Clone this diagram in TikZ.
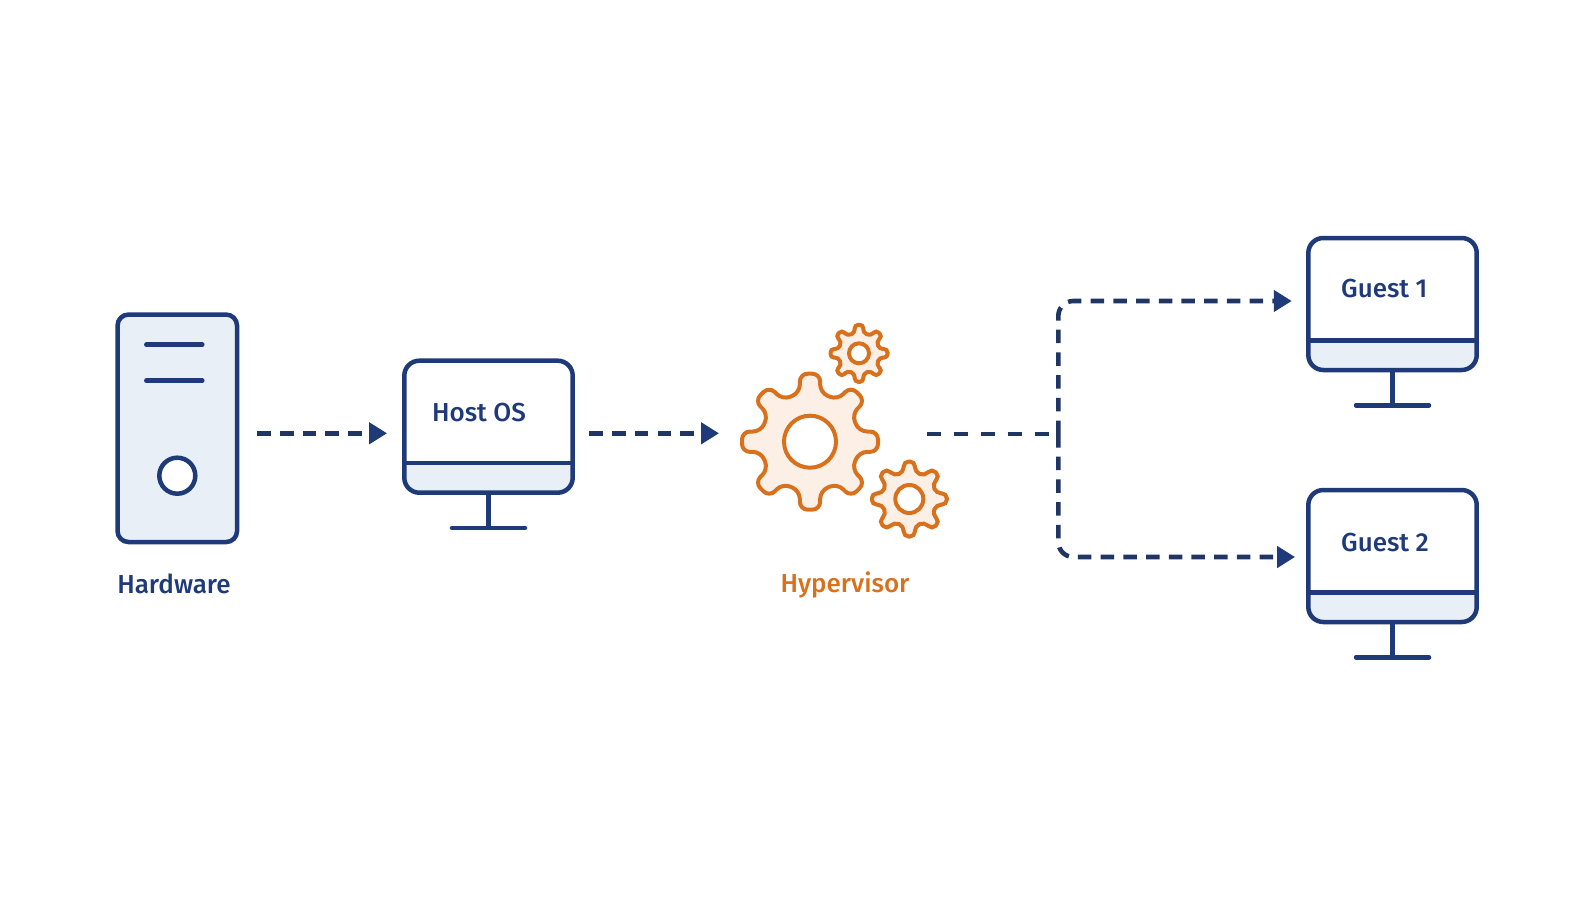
\documentclass[tikz,border=0pt]{standalone}
\usepackage{fontspec}
\setmainfont{Fira Sans Medium}
\usetikzlibrary{arrows.meta,positioning}
\definecolor{navy}{HTML}{1E3A78}
\definecolor{dashnavy}{HTML}{1F3564}
\definecolor{panel}{HTML}{E9EFF6}
\definecolor{rust}{HTML}{D9711C}
\definecolor{cogfill}{HTML}{FBEFE6}
\tikzset{
	pics/monitor/.style={code={
		\begin{scope}
			\clip (-84.2,36.3) rectangle (84.2,66);
			\fill[panel, rounded corners=15pt] (-84.2,-66) rectangle (84.2,66);
		\end{scope}
		\node[outline, minimum width=168.4pt, minimum height=132pt, rounded corners=15pt] (screen) at (0,0) { };
		\draw[thickline] (-84.2,36.3) -- (84.2,36.3);
		\draw[thickline] (screen.south) -- (0,101.3);
		\draw[thickline, line cap=round] (-36.5,101.3) -- (36.5,101.3);
	}},
	pics/gear/.style n args={3}{code={
		\draw[cog, rounded corners=#3] ([rotate=-22.5]{#1*.723},0)
			\foreach \a in {0,45,...,315} {
				-- ([rotate=\a]{#1*.72},{#1*.15}) -- ([rotate=\a]{#1},{#1*.15})
				-- ([rotate=\a]{#1},{-#1*.15}) -- ([rotate=\a]{#1*.72},{-#1*.15})
			} -- ([rotate=-22.5]{#1*.723},0);
		\node[hub, minimum size=#2*2pt] (hole) at (0,0) { };
	}}
}
\begin{document}
\begin{tikzpicture}[x=1pt, y=-1pt]
	\tikzstyle{outline}=[rectangle, draw=navy, line width=4.5pt, inner sep=0pt]
	\tikzstyle{thickline}=[draw=navy, line width=4.5pt]
	\tikzstyle{caption}=[font=\fontsize{26}{30}\selectfont, text=navy, inner sep=0pt]
	\tikzstyle{cog}=[draw=rust, fill=cogfill, line width=4pt, line cap=round]
	\tikzstyle{hub}=[circle, draw=rust, fill=white, line width=4pt, inner sep=0pt]
	\tikzstyle{link}=[draw=dashnavy, line width=4.6pt, dash pattern=on 13.5pt off 9.2pt, -{Triangle[length=18pt, width=21pt, color=navy]}]
	\useasboundingbox (0,0) rectangle (1594,896);

	\node[outline, fill=panel, minimum width=119.5pt, minimum height=227.5pt, rounded corners=11pt] (tower) at (177.3,428.3) { };
	\node[circle, draw=navy, fill=white, line width=4.5pt, inner sep=0pt, minimum size=36pt] (disk) at (177.3,475.7) { };
	\draw[thickline, line cap=round] ([shift={(-31,-83.6)}]tower.center) -- ([shift={(25,-83.6)}]tower.center);
	\draw[thickline, line cap=round] ([shift={(-31,-47.6)}]tower.center) -- ([shift={(25,-47.6)}]tower.center);
	\node[caption] (hardware) at (174,584) {Hardware};

	\pic (host) at (488.5,426.7) {monitor};
	\node[caption, anchor=west] (hostlabel) at ([shift={(-56.5,-14.5)}]hostscreen.center) {Host OS};

	\pic (big) at (810,441.7) {gear={68}{26}{8pt}};
	\pic (top) at (859,353.3) {gear={28.5}{10}{3.5pt}};
	\pic (low) at (909.3,499) {gear={37.5}{14}{5pt}};
	\node[caption, text=rust] (hypervisor) at (845,585) {Hypervisor};

	\pic (guesta) at (1392.5,304) {monitor};
	\node[caption, anchor=west] (guestalabel) at ([shift={(-51.5,-15)}]guestascreen.center) {Guest 1};
	\pic (guestb) at (1392.5,556) {monitor};
	\node[caption, anchor=west] (guestblabel) at ([shift={(-51.5,-13)}]guestbscreen.center) {Guest 2};

	\coordinate (gearin) at (719,433.3);
	\coordinate (stub) at (926.7,434);
	\coordinate (split) at (1058.3,434);

	\path (tower.east) ++(18,5) coordinate (towerout);
	\draw[link] (towerout) -- ([shift={(-15,6.6)}]hostscreen.west);
	\draw[link] ([shift={(14.5,6.6)}]hostscreen.east) -- (gearin);
	\draw[draw=dashnavy, line width=4.6pt, dash pattern=on 14pt off 13pt] (stub) -- (split);
	\draw[link, rounded corners=15pt] (split) |- ([shift={(-14.3,-3)}]guestascreen.west);
	\draw[link, rounded corners=15pt] (split) |- ([shift={(-11,1)}]guestbscreen.west);
\end{tikzpicture}
\end{document}
